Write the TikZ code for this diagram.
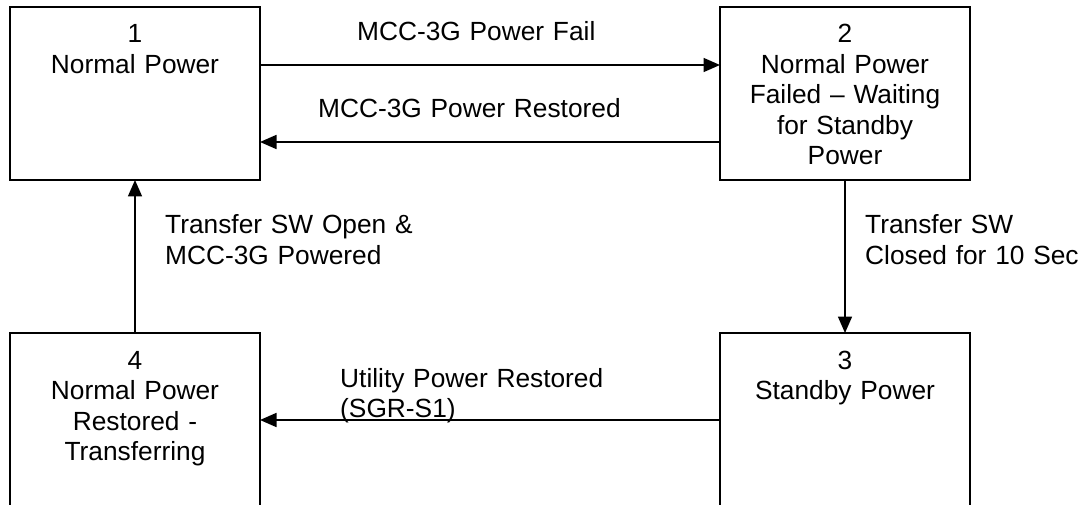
\documentclass[tikz,border=0pt]{standalone}
\usepackage{fontspec}
\setmainfont{Liberation Sans}
\usetikzlibrary{arrows.meta}
\begin{document}
\begin{tikzpicture}[x=1pt,y=-1pt,
  box/.style={draw, line width=1.7pt, minimum width=250pt, inner sep=0pt, outer sep=0pt},
  lbl/.style={font=\fontsize{26.3}{30.5}\selectfont, inner sep=0pt, text width=420pt, align=left, anchor=base west},
  st/.style={font=\fontsize{26.3}{30.5}\selectfont, inner sep=0pt, text width=250pt, align=center, anchor=base},
  arr/.style={line width=1.7pt, -{Triangle[length=16.5pt,width=14pt]}}]
\useasboundingbox (0,0) rectangle (1082,505);
\clip (0,0) rectangle (1082,505);
\fill[white] (0,0) rectangle (1082,505);
% boxes
\node[box, minimum height=173pt] (b1) at (135,93.5) {};
\node[box, minimum height=173pt] (b2) at (845,93.5) {};
\node[box, minimum height=182pt] (b3) at (845,424) {};
\node[box, minimum height=182pt] (b4) at (135,424) {};
% state texts
\node[st] (t1) at (135,43) {1\\Normal Power};
\node[st] (t2) at (845,43) {2\\Normal Power\\Failed – Waiting\\for Standby\\Power};
\node[st] (t3) at (845,369) {3\\Standby Power};
\node[st] (t4) at (135,369) {4\\Normal Power\\Restored -\\Transferring};
% helper coordinates
\coordinate (r65) at (0,65);
\coordinate (r142) at (0,142);
\coordinate (r420) at (0,420);
% connectors
\draw[arr] (b1.east |- r65) -- (b2.west |- r65);
\draw[arr] (b2.west |- r142) -- (b1.east |- r142);
\draw[arr] (b2.south) -- (b3.north);
\draw[arr] (b3.west |- r420) -- (b4.east |- r420);
\draw[arr] (b4.north) -- (b1.south);
% connector labels
\node[lbl] (l1) at (357,41) {MCC-3G Power Fail};
\node[lbl] (l2) at (318,118) {MCC-3G Power Restored};
\node[lbl] (l3) at (865,234) {Transfer SW\\Closed for 10 Sec};
\node[lbl] (l4) at (340,387) {Utility Power Restored\\(SGR-S1)};
\node[lbl] (l5) at (165,234) {Transfer SW Open \&\\MCC-3G Powered};
\end{tikzpicture}
\end{document}
